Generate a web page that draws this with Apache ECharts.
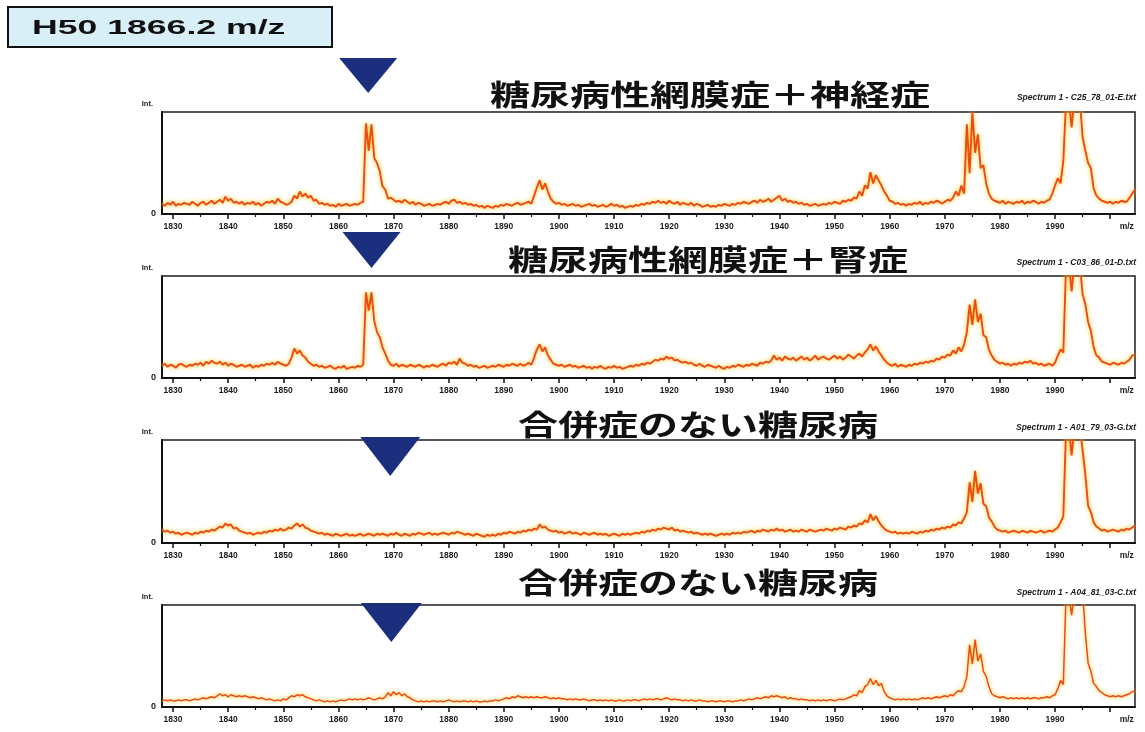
<!DOCTYPE html>
<html>
<head>
<meta charset="utf-8">
<script src="https://cdn.jsdelivr.net/npm/echarts@6/dist/echarts.min.js"></script>
<style>
  html, body { margin: 0; padding: 0; background: #ffffff; }
  #chart { width: 1145px; height: 732px; }
</style>
</head>
<body>
<div id="chart"></div>
<script>
// Mass spectra around H50 (m/z 1866.2), four samples.
// Intensities are in percent of the panel's full scale, sampled every 0.5 m/z.
const HEADER = 'H50 1866.2 m/z';
const MZ_START = 1828;
const MZ_STEP = 0.5;
const MZ_MIN = 1828;
const MZ_MAX = 2004.5;
const MAJOR_TICKS = [1830, 1840, 1850, 1860, 1870, 1880, 1890, 1900, 1910, 1920, 1930, 1940, 1950, 1960, 1970, 1980, 1990, 2000];
const MINOR_TICKS = [1835, 1845, 1855, 1865, 1875, 1885, 1895, 1905, 1915, 1925, 1935, 1945, 1955, 1965, 1975, 1985, 1995];
const TICK_LABELS = [1830, 1840, 1850, 1860, 1870, 1880, 1890, 1900, 1910, 1920, 1930, 1940, 1950, 1960, 1970, 1980, 1990];
const UNIT_LABEL_MZ = 2003;

const TITLES = ['糖尿病性網膜症＋神経症', '糖尿病性網膜症＋腎症', '合併症のない糖尿病', '合併症のない糖尿病'];
const FILE_LABELS = ['Spectrum 1 - C25_78_01-E.txt', 'Spectrum 1 - C03_86_01-D.txt', 'Spectrum 1 - A01_79_03-G.txt', 'Spectrum 1 - A04_81_03-C.txt'];
// m/z where each arrow points
const MARKER_MZ = [1865.4, 1866.0, 1869.4, 1869.6];

const SPEC_1 = [
  10, 8, 11, 9, 12, 8, 10, 9, 11, 10,
  9, 12, 10, 8, 11, 12, 9, 11, 13, 10,
  12, 14, 11, 17, 13, 15, 11, 12, 10, 12,
  9, 11, 10, 12, 9, 11, 8, 10, 12, 11,
  13, 10, 15, 12, 11, 9, 10, 12, 18, 15,
  22, 17, 20, 16, 18, 13, 14, 10, 11, 9,
  10, 8, 9, 7, 10, 8, 9, 10, 8, 9,
  10, 9, 11, 12, 89, 62, 88, 55, 50, 42,
  27, 24, 15, 16, 14, 12, 13, 11, 14, 12,
  10, 12, 9, 11, 10, 8, 9, 10, 8, 9,
  10, 9, 11, 12, 10, 13, 14, 11, 12, 10,
  11, 9, 10, 8, 9, 7, 8, 6, 8, 7,
  6, 8, 7, 9, 8, 10, 9, 8, 10, 11,
  9, 10, 11, 12, 10, 18, 26, 33, 24, 30,
  22, 15, 12, 10, 11, 9, 10, 8, 9, 10,
  8, 9, 7, 8, 9, 10, 8, 9, 7, 8,
  9, 7, 8, 10, 8, 9, 7, 8, 6, 7,
  8, 7, 9, 8, 10, 9, 11, 10, 12, 11,
  13, 11, 12, 10, 13, 11, 10, 12, 9, 11,
  10, 9, 11, 8, 10, 9, 7, 8, 9, 7,
  8, 7, 9, 8, 10, 9, 8, 10, 9, 11,
  10, 12, 11, 10, 12, 13, 11, 14, 12, 13,
  15, 12, 14, 16, 18, 13, 15, 12, 13, 11,
  12, 10, 11, 9, 10, 8, 9, 10, 8, 9,
  10, 9, 11, 10, 12, 11, 10, 13, 12, 14,
  13, 16, 15, 22, 18, 28, 25, 41, 30, 38,
  33, 28, 22, 18, 13, 12, 10, 11, 9, 10,
  8, 10, 9, 11, 10, 12, 9, 11, 10, 12,
  11, 13, 12, 10, 12, 14, 13, 16, 22, 18,
  28, 20, 88, 40, 100, 60, 78, 45, 48, 30,
  20, 15, 13, 12, 11, 13, 10, 12, 11, 10,
  12, 11, 13, 10, 12, 11, 13, 12, 10, 12,
  11, 13, 14, 20, 28, 35, 30, 52, 112, 112,
  85, 112, 112, 112, 75, 62, 50, 45, 25, 18,
  15, 13, 12, 11, 12, 10, 12, 11, 13, 12,
  12, 16, 20, 24
];

const SPEC_2 = [
  12, 14, 11, 13, 12, 10, 13, 14, 12, 11,
  13, 12, 14, 13, 15, 12, 16, 14, 17, 15,
  14, 16, 13, 15, 12, 14, 13, 11, 12, 13,
  11, 12, 13, 10, 12, 11, 13, 12, 14, 13,
  15, 13, 16, 14, 13, 12, 14, 20, 29, 24,
  27, 22, 20, 16, 14, 12, 13, 11, 12, 10,
  11, 12, 10, 9, 11, 10, 12, 9, 10, 11,
  10, 12, 11, 13, 84, 66, 84, 56, 45, 40,
  30, 24, 17, 13, 12, 14, 11, 13, 12, 11,
  13, 12, 11, 13, 12, 10, 12, 11, 13, 12,
  11, 13, 14, 12, 15, 14, 16, 13, 19, 15,
  14, 12, 13, 11, 12, 10, 11, 12, 10, 11,
  12, 11, 13, 12, 11, 13, 12, 14, 13, 12,
  14, 12, 13, 15, 13, 20, 28, 33, 26, 30,
  22, 18, 14, 13, 12, 13, 11, 12, 13, 11,
  12, 10, 11, 12, 10, 11, 9, 11, 10, 12,
  10, 9, 11, 10, 12, 10, 11, 9, 10, 11,
  12, 11, 13, 12, 14, 13, 15, 14, 16, 18,
  17, 19, 18, 21, 19, 20, 17, 18, 16, 15,
  16, 14, 15, 13, 12, 14, 12, 11, 13, 12,
  11, 10, 12, 10, 9, 11, 10, 12, 11, 13,
  12, 11, 13, 12, 14, 13, 12, 15, 14, 16,
  15, 17, 22, 18, 20, 17, 21, 19, 18, 20,
  17, 19, 21, 18, 20, 17, 19, 22, 18, 20,
  21, 19, 18, 20, 22, 19, 21, 18, 20, 23,
  21, 19, 22, 24, 21, 25, 28, 33, 27, 31,
  26, 22, 18, 15, 13, 12, 14, 11, 13, 12,
  11, 13, 12, 14, 13, 15, 14, 16, 15, 17,
  16, 19, 18, 21, 20, 23, 22, 27, 24, 30,
  26, 33, 45, 72, 52, 77, 55, 63, 42, 40,
  28, 22, 18, 16, 14, 15, 13, 14, 12, 14,
  13, 15, 14, 16, 15, 17, 14, 15, 13, 14,
  12, 13, 14, 12, 15, 22, 28, 25, 112, 112,
  85, 112, 112, 112, 82, 72, 55, 46, 30, 22,
  20, 16, 15, 14, 13, 15, 14, 13, 15, 14,
  16, 18, 22, 23
];

const SPEC_3 = [
  13, 11, 12, 10, 11, 9, 10, 8, 9, 10,
  9, 8, 10, 9, 11, 10, 12, 11, 13, 12,
  14, 16, 15, 19, 17, 18, 14, 15, 12, 11,
  10, 9, 10, 8, 9, 10, 9, 11, 10, 12,
  11, 13, 12, 14, 12, 13, 15, 14, 17, 19,
  16, 18, 15, 14, 12, 11, 10, 9, 10, 8,
  9, 8, 7, 9, 8, 7, 8, 9, 7, 8,
  7, 8, 9, 7, 8, 9, 8, 7, 9, 8,
  9, 8, 7, 9, 8, 10, 8, 7, 9, 8,
  7, 9, 8, 10, 9, 8, 9, 10, 8, 9,
  8, 9, 10, 9, 8, 10, 9, 11, 10, 9,
  8, 9, 8, 7, 9, 8, 7, 6, 8, 7,
  8, 7, 9, 8, 10, 9, 11, 10, 9, 11,
  10, 12, 11, 13, 12, 14, 13, 18, 15, 16,
  13, 12, 11, 12, 10, 11, 9, 10, 11, 9,
  10, 9, 8, 10, 9, 8, 9, 10, 8, 9,
  8, 9, 7, 8, 9, 8, 7, 9, 8, 9,
  8, 9, 10, 9, 11, 10, 12, 11, 13, 12,
  14, 13, 15, 14, 13, 15, 12, 13, 11, 12,
  11, 10, 11, 9, 10, 9, 8, 9, 8, 9,
  8, 7, 8, 9, 8, 9, 8, 10, 9, 10,
  9, 11, 10, 11, 12, 10, 12, 11, 13, 12,
  11, 13, 12, 14, 12, 13, 11, 12, 13, 11,
  12, 11, 13, 12, 11, 13, 12, 11, 12, 13,
  12, 14, 13, 12, 14, 13, 15, 14, 13, 16,
  15, 17, 16, 19, 18, 22, 20, 28, 22, 26,
  21, 17, 14, 12, 11, 10, 11, 9, 10, 9,
  10, 9, 11, 10, 9, 11, 10, 12, 11, 13,
  12, 14, 13, 15, 14, 16, 15, 18, 17, 20,
  19, 24, 30, 59, 40, 70, 48, 58, 38, 36,
  25, 21, 16, 13, 12, 11, 12, 10, 11, 12,
  11, 10, 12, 11, 10, 12, 11, 10, 11, 12,
  10, 11, 12, 11, 13, 15, 20, 26, 112, 112,
  85, 112, 112, 112, 90, 66, 36, 30, 20, 16,
  14, 12, 13, 11, 12, 13, 12, 11, 13, 12,
  14, 13, 15, 17
];

const SPEC_4 = [
  6, 7, 6, 7, 6, 6, 7, 6, 7, 7,
  6, 7, 8, 7, 8, 9, 8, 9, 10, 9,
  11, 13, 11, 12, 10, 12, 11, 10, 11, 10,
  11, 10, 9, 10, 9, 8, 9, 8, 7, 8,
  7, 6, 7, 6, 8, 7, 9, 11, 10, 12,
  11, 12, 10, 9, 8, 7, 6, 7, 6, 5,
  6, 5, 6, 5, 6, 7, 6, 7, 8, 7,
  8, 7, 8, 7, 8, 9, 8, 7, 8, 9,
  8, 10, 14, 11, 15, 12, 14, 11, 13, 10,
  9, 7, 6, 5, 6, 5, 6, 5, 6, 6,
  5, 6, 5, 6, 7, 6, 5, 6, 5, 6,
  6, 5, 6, 5, 6, 5, 5, 6, 5, 6,
  6, 7, 6, 7, 8, 9, 8, 10, 9, 11,
  10, 9, 10, 9, 10, 9, 10, 9, 9, 10,
  9, 8, 9, 8, 9, 8, 8, 7, 8, 7,
  8, 7, 7, 8, 7, 6, 7, 7, 6, 7,
  6, 7, 6, 7, 6, 6, 7, 6, 6, 7,
  6, 7, 7, 6, 7, 8, 7, 8, 7, 8,
  8, 7, 8, 9, 8, 7, 8, 7, 7, 6,
  7, 6, 7, 6, 6, 7, 6, 6, 5, 6,
  6, 5, 6, 6, 5, 6, 6, 5, 6, 6,
  7, 6, 7, 8, 7, 8, 9, 8, 9, 10,
  9, 11, 10, 11, 10, 9, 10, 8, 9, 8,
  8, 7, 8, 7, 7, 6, 7, 6, 7, 6,
  7, 6, 7, 7, 6, 7, 8, 7, 8, 9,
  10, 12, 11, 16, 14, 20, 22, 28, 22, 26,
  21, 23, 15, 11, 9, 8, 7, 8, 7, 8,
  7, 8, 7, 8, 7, 8, 9, 8, 9, 8,
  9, 10, 9, 10, 11, 10, 12, 11, 14, 16,
  15, 20, 30, 61, 42, 66, 45, 52, 35, 30,
  20, 13, 11, 10, 9, 10, 9, 8, 9, 8,
  9, 8, 9, 8, 9, 8, 9, 9, 8, 9,
  9, 10, 9, 11, 12, 18, 26, 22, 112, 112,
  90, 112, 112, 112, 112, 72, 43, 35, 23, 20,
  16, 14, 12, 11, 10, 11, 10, 11, 10, 11,
  12, 13, 15, 16
];

const SPECTRA = [SPEC_1, SPEC_2, SPEC_3, SPEC_4];

// panel layout (pixels)
const PANELS = [
  { top: 112, height: 102, titleY: 95,  titleX: 710, fileY: 98 },
  { top: 276, height: 102, titleY: 260, titleX: 708, fileY: 263 },
  { top: 440, height: 103, titleY: 425, titleX: 698, fileY: 428 },
  { top: 605, height: 102, titleY: 583, titleX: 698, fileY: 593 }
];
const ARROWS = [
  { dy: -54, w: 58, h: 35 },
  { dy: -44, w: 58, h: 36 },
  { dy: -3,  w: 60, h: 39 },
  { dy: -2,  w: 61, h: 39 }
];
const PLOT_LEFT = 162;
const PLOT_RIGHT = 10;

const chart = echarts.init(document.getElementById('chart'), null, { renderer: 'canvas' });

const grids = [], xAxes = [], yAxes = [], series = [];
const labelFont = { fontFamily: 'Liberation Sans', fontWeight: 'bold', color: '#1a1a1a' };

PANELS.forEach((p, i) => {
  grids.push({
    left: PLOT_LEFT, right: PLOT_RIGHT, top: p.top, height: p.height,
    show: true, borderColor: '#1c1c24', borderWidth: 1.5, backgroundColor: 'transparent'
  });
  // major ticks + labels
  xAxes.push({
    type: 'value', gridIndex: i, min: MZ_MIN, max: MZ_MAX,
    axisLine: { show: true, onZero: false, lineStyle: { color: '#111', width: 2 } },
    axisTick: { show: true, length: 5, customValues: MAJOR_TICKS, lineStyle: { color: '#111', width: 1.5 } },
    axisLabel: {
      show: true, margin: 8, fontSize: 8.5, ...labelFont,
      customValues: TICK_LABELS.concat([UNIT_LABEL_MZ]),
      formatter: v => (v === UNIT_LABEL_MZ ? 'm/z' : String(v))
    },
    splitLine: { show: false }
  });
  // minor ticks
  xAxes.push({
    type: 'value', gridIndex: i, min: MZ_MIN, max: MZ_MAX, position: 'bottom',
    axisLine: { show: false },
    axisTick: { show: true, length: 3, customValues: MINOR_TICKS, lineStyle: { color: '#111', width: 1.2 } },
    axisLabel: { show: false },
    splitLine: { show: false }
  });
  yAxes.push({
    type: 'value', gridIndex: i, min: 0, max: 100, interval: 100,
    axisLine: { show: true, lineStyle: { color: '#111', width: 2 } },
    axisTick: { show: false },
    splitLine: { show: false },
    axisLabel: { margin: 6, fontSize: 9, ...labelFont, formatter: v => (v === 0 ? '0' : '') },
    name: 'Int.', nameLocation: 'end', nameGap: 4,
    nameTextStyle: { fontSize: 7.5, ...labelFont, align: 'right', padding: [0, 9, 0, 0] }
  });
  series.push({
    type: 'line', xAxisIndex: 2 * i, yAxisIndex: i,
    data: SPECTRA[i].map((v, k) => [MZ_START + k * MZ_STEP, v]),
    symbol: 'none', clip: true, silent: true,
    lineStyle: {
      color: '#ec4a18', width: i === 3 ? 1.5 : 1.9,
      shadowColor: 'rgba(255,196,0,1)', shadowBlur: 4
    }
  });
});

const staticGraphics = [
  {
    type: 'rect', shape: { x: 8, y: 7, width: 324, height: 40 },
    style: { fill: '#d8eff7', stroke: '#111', lineWidth: 2 }
  },
  {
    type: 'text', x: 32, y: 28, scaleX: 1.78,
    style: { text: HEADER, font: 'bold 20px "Liberation Sans"', fill: '#111', textAlign: 'left', textVerticalAlign: 'middle' }
  }
];
PANELS.forEach((p, i) => {
  staticGraphics.push({
    type: 'text', x: p.titleX, y: p.titleY, scaleX: 1.38,
    style: { text: TITLES[i], font: 'bold 29px "Noto Sans CJK JP"', fill: '#111', textAlign: 'center', textVerticalAlign: 'middle' }
  });
  staticGraphics.push({
    type: 'text', x: 1136, y: p.fileY,
    style: { text: FILE_LABELS[i], font: 'italic bold 8.5px "Liberation Sans"', fill: '#1a1a1a', textAlign: 'right', textVerticalAlign: 'middle' }
  });
});

chart.setOption({
  animation: false,
  backgroundColor: '#ffffff',
  grid: grids,
  xAxis: xAxes,
  yAxis: yAxes,
  series: series,
  graphic: staticGraphics
});

// arrows placed through the x axis of each panel
const arrowGraphics = PANELS.map((p, i) => {
  const x = chart.convertToPixel({ xAxisIndex: 2 * i }, MARKER_MZ[i]);
  const a = ARROWS[i];
  const top = p.top + a.dy;
  return {
    type: 'polygon',
    shape: { points: [[x - a.w / 2, top], [x + a.w / 2, top], [x, top + a.h]] },
    style: { fill: '#1b2f7e' }
  };
});
chart.setOption({ graphic: staticGraphics.concat(arrowGraphics) });
</script>
</body>
</html>
